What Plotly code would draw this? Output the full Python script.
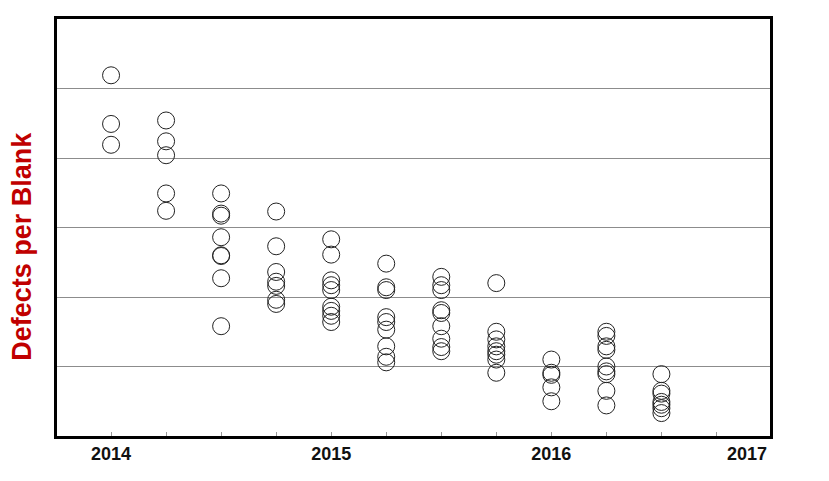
import plotly.graph_objects as go

# Quarterly sample dates (decimal years) and defects per blank readings
quarters = [2014.0, 2014.25, 2014.5, 2014.75, 2015.0, 2015.25,
            2015.5, 2015.75, 2016.0, 2016.25, 2016.5]

defects = [
    [5.19, 4.49, 4.19],
    [4.54, 4.24, 4.04, 3.49, 3.24],
    [3.49, 3.20, 3.17, 2.86, 2.60, 2.59, 2.27, 1.58],
    [3.23, 2.73, 2.36, 2.22, 2.16, 1.96, 1.90],
    [2.83, 2.61, 2.24, 2.17, 2.10, 1.86, 1.80, 1.73, 1.64],
    [2.48, 2.14, 2.10, 1.71, 1.64, 1.53, 1.29, 1.14, 1.06],
    [2.29, 2.17, 2.10, 1.81, 1.77, 1.58, 1.40, 1.28, 1.22],
    [2.20, 1.50, 1.39, 1.29, 1.22, 1.17, 1.10, 0.91],
    [1.10, 0.91, 0.88, 0.70, 0.50],
    [1.50, 1.44, 1.29, 1.24, 1.00, 0.93, 0.89, 0.65, 0.44],
    [0.89, 0.65, 0.61, 0.49, 0.45, 0.40, 0.33],
]

tick_vals = [2014.0, 2014.25, 2014.5, 2014.75, 2015.0, 2015.25, 2015.5,
             2015.75, 2016.0, 2016.25, 2016.5, 2016.75, 2017.0]
tick_text = ["2014", "", "", "", "2015", "", "", "", "2016", "", "", "", ""]
last_label = "2017"
y_title = "Defects per Blank"

xs, ys = [], []
for q, vals in zip(quarters, defects):
    for v in vals:
        xs.append(q)
        ys.append(v)

FONT = "Liberation Sans, Arial, sans-serif"

fig = go.Figure()
fig.add_trace(go.Scatter(
    x=xs, y=ys, mode="markers",
    marker=dict(symbol="circle-open", size=17, color="#222222",
                line=dict(width=1, color="#222222")),
    showlegend=False, hoverinfo="skip",
))

# the page body keeps the browser's default 8px margin, so margins compensate
fig.update_layout(
    width=829, height=481,
    margin=dict(l=49, r=67, t=11, b=53),
    paper_bgcolor="white", plot_bgcolor="white",
    font=dict(family=FONT, color="#111111"),
)

fig.update_xaxes(
    range=[2013.7545, 2016.9932],
    tickmode="array", tickvals=tick_vals,
    ticktext=[("<b>" + t + "</b>") if t else "" for t in tick_text],
    ticks="inside", ticklen=4, tickcolor="#999999", tickwidth=1,
    tickfont=dict(size=18, family=FONT, color="#111111"),
    ticklabelstandoff=-1,
    showgrid=False, zeroline=False, automargin=False,
    showline=True, linecolor="black", linewidth=3, mirror=True,
)
fig.update_yaxes(
    range=[0, 6],
    tickmode="array", tickvals=[1, 2, 3, 4, 5],
    ticks="inside", ticklen=3, tickcolor="#999999",
    showticklabels=False, automargin=False,
    showgrid=True, gridcolor="#8c8c8c", gridwidth=1,
    zeroline=False,
    showline=True, linecolor="black", linewidth=3, mirror=True,
)

fig.add_annotation(
    x=(22 - 57) / 712.5, y=0.456, xref="paper", yref="paper",
    text="<b>" + y_title + "</b>", showarrow=False, textangle=-90,
    xanchor="center", yanchor="middle",
    font=dict(size=27, color="#C00000", family=FONT),
)

fig.add_annotation(
    x=1.0, y=0, xref="paper", yref="y",
    text="<b>" + last_label + "</b>", showarrow=False,
    xanchor="right", yanchor="top", xshift=-1, yshift=-6,
    font=dict(size=18, family=FONT, color="#111111"),
)

fig.write_html("out.html")
